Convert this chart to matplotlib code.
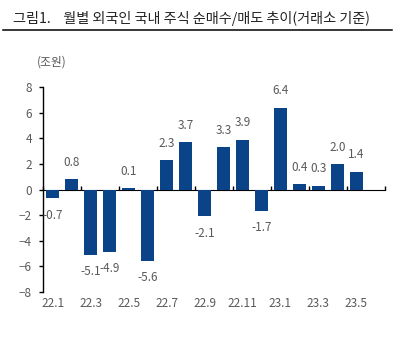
import matplotlib.pyplot as plt
from matplotlib.lines import Line2D
import numpy as np

plt.rcParams['font.family'] = ['Noto Sans CJK KR', 'DejaVu Sans']

months = ['22.1', '22.2', '22.3', '22.4', '22.5', '22.6', '22.7', '22.8', '22.9',
          '22.10', '22.11', '22.12', '23.1', '23.2', '23.3', '23.4', '23.5']
net_buy = [-0.7, 0.8, -5.1, -4.9, 0.1, -5.6, 2.3, 3.7, -2.1,
           3.3, 3.9, -1.7, 6.4, 0.4, 0.3, 2.0, 1.4]
y_ticks = [-8, -6, -4, -2, 0, 2, 4, 6, 8]

bar_color = '#0b4388'
text_color = '#595959'

fig = plt.figure(figsize=(4.03, 3.39), dpi=100)
ax = fig.add_axes([0.107, 0.139, 0.848, 0.604])

x = np.arange(len(months))
bars = ax.bar(x, net_buy, width=0.72, color=bar_color, zorder=2)

for xi, v in zip(x, net_buy):
    off = 12 if v >= 0 else -12
    ax.annotate(f'{v:.1f}', (xi, v), xytext=(0, off), textcoords='offset points',
                ha='center', va='center', fontsize=8.5, color=text_color)

ax.set_xlim(-0.5, 17.5)
ax.set_ylim(-8, 8)
ax.set_yticks(y_ticks)
ax.tick_params(axis='y', direction='out', length=3, width=1, colors='black',
               labelcolor=text_color, labelsize=8.5, pad=5)

# month labels along the bottom, every other month
ax.set_xticks(x[::2])
ax.set_xticklabels(months[::2])
ax.tick_params(axis='x', length=0, labelcolor=text_color, labelsize=8.5, pad=4)

for s in ['top', 'right', 'bottom']:
    ax.spines[s].set_visible(False)
ax.spines['left'].set_linewidth(1)

# zero line with ticks between month pairs
zero = ax.secondary_xaxis(0.5)
zero.set_xticks(np.arange(-0.5, 18, 2))
zero.set_xticklabels([])
zero.tick_params(direction='out', length=3, width=1)
zero.spines['bottom'].set_linewidth(1)

fig.text(0.032, 0.944, '그림1.    월별 외국인 국내 주식 순매수/매도 추이(거래소 기준)',
         fontsize=10.2, color='#222222', va='center', ha='left')
fig.add_artist(Line2D([0.008, 0.972], [0.911, 0.911], color='black', lw=1.1,
                      transform=fig.transFigure))
fig.text(0.129, 0.817, '(조원)', fontsize=8.5, color=text_color, ha='center', va='center')

fig.savefig('out.png', dpi=100)
